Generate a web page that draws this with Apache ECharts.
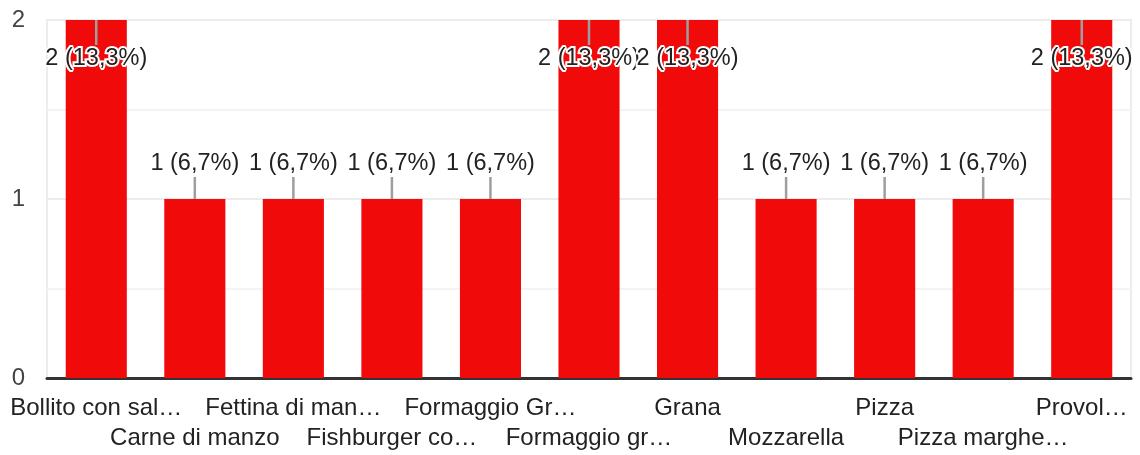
<!DOCTYPE html>
<html>
<head>
<meta charset="utf-8">
<script src="https://cdn.jsdelivr.net/npm/echarts@6/dist/echarts.min.js"></script>
<style>
  html, body { margin: 0; padding: 0; background: #fff; }
  #chart { width: 1140px; height: 455px; }
</style>
</head>
<body>
<div id="chart"></div>
<script>
const categories = [
  'Bollito con sal…', 'Carne di manzo', 'Fettina di man…', 'Fishburger co…',
  'Formaggio Gr…', 'Formaggio gr…', 'Grana', 'Mozzarella',
  'Pizza', 'Pizza marghe…', 'Provol…'
]
const counts = [2, 1, 1, 1, 1, 2, 2, 1, 1, 1, 2]
const yTicks = [0, 1, 2]

const yMax = yTicks[yTicks.length - 1]
const total = counts.reduce((a, b) => a + b, 0)
const FONT = '"Liberation Sans", Arial, sans-serif'

// testo tipo "2 (13,3%)"
const labelText = (v) => v + ' (' + (v / total * 100).toFixed(1).replace('.', ',') + '%)'

const chart = echarts.init(document.getElementById('chart'))

const renderLabel = (params, api) => {
  const v = api.value(1)
  const p = api.coord([api.value(0), v])
  // se la barra tocca il massimo, l'etichetta va dentro
  const inside = v >= yMax
  const yEnd = inside ? p[1] + 25 : p[1] - 22
  const yText = inside ? p[1] + 39 : p[1] - 35
  return {
    type: 'group',
    children: [
      {
        type: 'line',
        shape: { x1: p[0], y1: p[1], x2: p[0], y2: yEnd },
        style: { stroke: '#9e9e9e', lineWidth: 2.5 }
      },
      {
        type: 'text',
        x: p[0],
        y: yText,
        style: {
          text: labelText(v),
          align: 'center',
          verticalAlign: 'middle',
          fill: '#222',
          font: '23.5px ' + FONT,
          stroke: '#fff',
          lineWidth: 4
        }
      }
    ]
  }
}

chart.setOption({
  backgroundColor: '#fff',
  animation: false,
  grid: { left: 47, right: 9, top: 20, bottom: 77, show: true, borderColor: '#ececec', borderWidth: 2 },
  xAxis: {
    type: 'category',
    data: categories,
    axisTick: { show: false },
    axisLine: { lineStyle: { color: '#333', width: 3 } },
    axisLabel: {
      interval: 0,
      margin: 15,
      color: '#222',
      fontSize: 24,
      fontFamily: FONT,
      lineHeight: 30,
      formatter: (v, i) => (i % 2 ? '\n' + v : v)
    }
  },
  yAxis: {
    type: 'value',
    min: yTicks[0],
    max: yMax,
    interval: 1,
    axisLine: { show: false },
    axisTick: { show: false },
    axisLabel: { color: '#444', fontSize: 24, fontFamily: FONT, margin: 22 },
    splitLine: { lineStyle: { color: '#ececec', width: 2 } },
    minorTick: { show: false, splitNumber: 2 },
    minorSplitLine: { show: true, lineStyle: { color: '#f4f4f4', width: 2 } }
  },
  series: [
    {
      type: 'bar',
      data: counts,
      barWidth: '62%',
      itemStyle: { color: '#f10a0a' }
    },
    {
      type: 'custom',
      clip: false,
      data: counts.map((v, i) => [i, v]),
      encode: { x: 0, y: 1 },
      renderItem: renderLabel,
      z: 5
    }
  ]
})
</script>
</body>
</html>
